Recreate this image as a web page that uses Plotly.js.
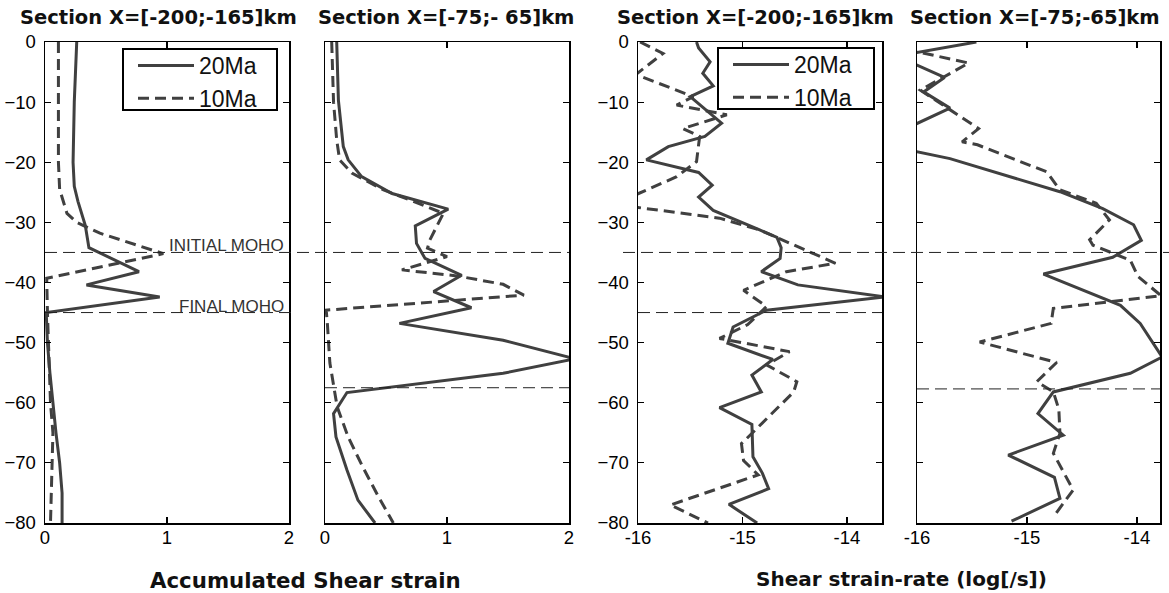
<!DOCTYPE html>
<html>
<head>
<meta charset="utf-8">
<script src="https://cdn.plot.ly/plotly-3.0.1.min.js"></script>
<style>html,body{margin:0;padding:0;background:#fff;}#chart{width:1169px;height:593px;}</style>
</head>
<body>
<div id="chart"></div>
<script>
// ---- Data ----
const seriesNames = ['20Ma', '10Ma'];
const panelTitles = ['Section X=[-200;-165]km', 'Section X=[-75;- 65]km', 'Section X=[-200;-165]km', 'Section X=[-75;-65]km'];
const xTitleStrain = 'Accumulated Shear strain';
const xTitleRate = 'Shear strain-rate (log[/s])';
const mohoLabels = ['INITIAL MOHO', 'FINAL MOHO'];

// Panel 1: accumulated strain, X=[-200;-165]
const p1_20_x = [0.26, 0.24, 0.23, 0.24, 0.27, 0.33, 0.36, 0.77, 0.34, 0.94, 0.01, 0.02, 0.04, 0.063, 0.09, 0.12, 0.14, 0.14];
const p1_20_d = [0, -10, -20, -24, -26.5, -30.5, -34.2, -38.2, -40.4, -42.4, -45, -50, -55, -60, -65, -70, -75, -80];
const p1_10_x = [0.11, 0.11, 0.12, 0.18, 0.26, 0.45, 0.97, 0.53, 0.014, 0.02, 0.03, 0.045, 0.065, 0.06, 0.05, 0.045];
const p1_10_d = [0, -20, -24.5, -28.5, -30, -31.8, -35.2, -37.1, -39.3, -45, -52, -60, -65, -70, -75, -80];

// Panel 2: accumulated strain, X=[-75;-65]
const p2_20_x = [0.096, 0.11, 0.15, 0.19, 0.30, 0.55, 1.01, 0.74, 0.75, 0.82, 1.12, 0.89, 1.20, 0.61, 1.46, 2.05, 1.46, 0.18, 0.07, 0.09, 0.18, 0.27, 0.41];
const p2_20_d = [0, -9.7, -17.4, -19.6, -22.4, -25.2, -27.8, -30.6, -33.5, -36, -38.8, -41.5, -44.2, -46.8, -49.6, -52.7, -55.1, -58.3, -61.8, -65.7, -71.2, -76.2, -80];
const p2_10_x = [0.055, 0.07, 0.096, 0.12, 0.22, 0.48, 0.75, 0.97, 0.86, 0.84, 1.0, 0.63, 1.08, 1.46, 1.63, 0.01, 0.02, 0.04, 0.10, 0.19, 0.31, 0.44, 0.56];
const p2_10_d = [0, -10, -16.3, -19.6, -21.8, -24.6, -26.7, -28.5, -32.9, -34.3, -35.7, -37.9, -38.9, -40.3, -42.1, -44.6, -47, -53.4, -60.7, -65.7, -70.7, -75.7, -80];

// Panel 3: strain rate, X=[-200;-165]
const p3_20_x = [-15.44, -15.42, -15.31, -15.38, -15.28, -15.50, -15.20, -15.36, -15.71, -15.92, -15.42, -15.29, -15.42, -15.28, -14.83, -14.67, -14.63, -14.64, -14.82, -14.47, -13.63, -14.77, -15.09, -15.14, -14.71, -14.91, -14.82, -15.22, -14.91, -14.90, -14.81, -14.75, -15.13, -14.86];
const p3_20_d = [0, -1, -3.3, -5.2, -7.3, -9.1, -13.5, -15.7, -17.4, -19.6, -21.7, -23.8, -25.8, -28, -31.3, -32.5, -34.2, -36, -38.2, -40.4, -42.4, -44.6, -47.4, -50.1, -52.8, -55.4, -58.2, -60.8, -63.6, -69, -71.7, -74.3, -76.9, -80];
const p3_10_x = [-15.98, -15.76, -16.02, -15.47, -15.63, -15.15, -15.57, -15.41, -15.44, -15.63, -16.23, -15.22, -14.83, -14.67, -14.51, -14.11, -14.58, -14.99, -14.77, -14.95, -15.22, -14.55, -14.77, -14.48, -14.51, -14.88, -15.01, -14.99, -14.85, -15.69, -15.33];
const p3_10_d = [0, -1.9, -5.4, -9.1, -10.5, -12.1, -14.4, -15.7, -19.9, -22.4, -27, -29.3, -31.3, -32.5, -33.8, -36.8, -38.2, -41.3, -44.0, -47.0, -49.3, -51.5, -53.7, -56.5, -58.2, -64.6, -66.8, -69.6, -72, -77, -80];

// Panel 4: strain rate, X=[-75;-65]
const p4_20_x = [-15.46, -16.18, -15.75, -15.94, -15.70, -16.38, -15.70, -14.70, -14.31, -14.03, -13.96, -14.22, -14.85, -14.15, -13.97, -13.77, -14.06, -14.76, -14.90, -14.67, -15.17, -14.75, -14.70, -15.14];
const p4_20_d = [0, -2.35, -5.9, -8.3, -11, -16.8, -19.4, -24.9, -27.7, -30.4, -33, -35.8, -38.6, -43.8, -46.8, -52.4, -55.1, -58.2, -61.8, -65.4, -68.7, -72.4, -75.9, -79.7];
const p4_10_x = [-16.4, -15.53, -15.97, -15.44, -15.59, -15.45, -14.82, -14.70, -14.37, -14.25, -14.43, -14.40, -14.06, -13.99, -13.78, -14.76, -14.78, -15.43, -14.73, -14.91, -14.76, -14.71, -14.70, -14.76, -14.58, -14.76];
const p4_10_d = [0, -3.5, -8.0, -14.4, -16.6, -17.1, -21.6, -24.6, -26.8, -29.6, -32.9, -33.8, -36.3, -39, -42.2, -44.3, -46.8, -49.9, -53.3, -56.5, -58.2, -61.1, -65.1, -68.4, -74.5, -79];

// Moho depths (km)
const mohoInitial = -35;
const mohoFinal = -45;
const mohoP2 = -57.5;
const mohoP4 = -57.7;

// ---- Styling ----
const W = 1169, H = 593;
const col = '#404040';
const FONT = 'Liberation Sans, Arial, Helvetica, sans-serif';
const TFONT = 'DejaVu Sans, Liberation Sans, sans-serif';
const px = v => v / W;
const py = v => 1 - v / H;
const yDom = [py(523), py(42)];
const solid = {color: col, width: 3, dash: 'solid'};
const dashed = {color: col, width: 3, dash: '11px,6px'};

function tr(x, y, xa, ya, name, line, show, legend) {
  return {x: x, y: y, xaxis: xa, yaxis: ya, type: 'scatter', mode: 'lines', name: name,
          line: line, showlegend: show, legend: legend || 'legend', hoverinfo: 'skip'};
}

const data = [
  tr(p1_20_x, p1_20_d, 'x', 'y', seriesNames[0], solid, true, 'legend'),
  tr(p1_10_x, p1_10_d, 'x', 'y', seriesNames[1], dashed, true, 'legend'),
  tr(p2_20_x, p2_20_d, 'x2', 'y2', seriesNames[0], solid, false),
  tr(p2_10_x, p2_10_d, 'x2', 'y2', seriesNames[1], dashed, false),
  tr(p3_20_x, p3_20_d, 'x3', 'y3', seriesNames[0], solid, true, 'legend2'),
  tr(p3_10_x, p3_10_d, 'x3', 'y3', seriesNames[1], dashed, true, 'legend2'),
  tr(p4_20_x, p4_20_d, 'x4', 'y4', seriesNames[0], solid, false),
  tr(p4_10_x, p4_10_d, 'x4', 'y4', seriesNames[1], dashed, false)
];

const axBase = {showline: true, linecolor: '#000', linewidth: 1.5, mirror: 'ticks', ticks: 'inside',
  ticklen: 6, tickwidth: 1.2, tickcolor: '#000', showgrid: false, zeroline: false,
  tickfont: {family: FONT, size: 18.5, color: '#000'}, fixedrange: true};

function xa(dom, range, vals, anchor) {
  return Object.assign({}, axBase, {domain: [px(dom[0]), px(dom[1])], range: range, tickvals: vals,
    ticktext: vals.map(String), anchor: anchor, ticklabelstandoff: -3});
}
function ya(range, anchor, showLabels) {
  return Object.assign({}, axBase, {domain: yDom, range: range, dtick: 10, tick0: 0, anchor: anchor,
    showticklabels: showLabels, ticklabelstandoff: 4});
}

const titleFont = {family: TFONT, size: 19.5, color: '#111'};
const mohoFont = {family: FONT, size: 17, color: '#333'};
const panelCenters = [158, 446, 755, 1035];

const annotations = panelTitles.map((t, i) => ({text: '<b>' + t + '</b>', xref: 'paper', yref: 'paper',
  x: px(panelCenters[i]), y: py(17), xanchor: 'center', yanchor: 'middle', showarrow: false, font: titleFont}));
annotations.push({text: '<b>' + xTitleStrain + '</b>', xref: 'paper', yref: 'paper', x: px(305), y: py(580),
  xanchor: 'center', yanchor: 'middle', showarrow: false, font: {family: TFONT, size: 21.3, color: '#111'}});
annotations.push({text: '<b>' + xTitleRate + '</b>', xref: 'paper', yref: 'paper', x: px(901), y: py(579),
  xanchor: 'center', yanchor: 'middle', showarrow: false, font: {family: TFONT, size: 20, color: '#111'}});
annotations.push({text: mohoLabels[0], xref: 'paper', yref: 'y', x: px(286), y: mohoInitial, xanchor: 'right',
  yanchor: 'bottom', yshift: -5, showarrow: false, font: mohoFont});
annotations.push({text: mohoLabels[1], xref: 'paper', yref: 'y', x: px(286), y: mohoFinal, xanchor: 'right',
  yanchor: 'bottom', yshift: -5, showarrow: false, font: mohoFont});

function hline(y0, x0, x1) {
  return {type: 'line', xref: 'paper', yref: 'y', x0: px(x0), x1: px(x1), y0: y0, y1: y0,
    line: {color: '#222', width: 1, dash: '12px,6px'}};
}
function box(x0, y0, x1, y1) {
  return {type: 'rect', xref: 'paper', yref: 'paper', x0: px(x0), x1: px(x1), y0: py(y1), y1: py(y0),
    line: {color: '#000', width: 2}, fillcolor: '#fff', layer: 'above'};
}
const shapes = [
  hline(mohoInitial, 45, 569),
  hline(mohoFinal, 45, 297),
  hline(mohoP2, 325, 569),
  hline(mohoInitial, 623, 1169),
  hline(mohoFinal, 638, 882),
  hline(mohoP4, 917, 1160),
  box(123, 49, 277, 110),
  box(718, 48, 874, 109)
];

const legBase = {bgcolor: 'rgba(0,0,0,0)', borderwidth: 0, font: {family: FONT, size: 23, color: '#111'},
  xanchor: 'left', yanchor: 'top', itemwidth: 56, tracegroupgap: 0};

const layout = {
  width: W, height: H, margin: {l: 0, r: 0, t: 0, b: 0}, paper_bgcolor: '#fff', plot_bgcolor: '#fff',
  showlegend: true,
  legend: Object.assign({}, legBase, {x: px(133), y: py(44)}),
  legend2: Object.assign({}, legBase, {x: px(728), y: py(43)}),
  xaxis: xa([45, 289], [0, 2], [0, 1, 2], 'y'),
  yaxis: ya([-80, 0], 'x', true),
  xaxis2: xa([325, 569], [0, 2], [0, 1, 2], 'y2'),
  yaxis2: ya([-80, 0], 'x2', false),
  xaxis3: xa([638, 882], [-16, -13.665], [-16, -15, -14], 'y3'),
  yaxis3: ya([-80, 0], 'x3', true),
  xaxis4: xa([917, 1160], [-16, -13.79], [-16, -15, -14], 'y4'),
  yaxis4: ya([-80, 0], 'x4', false),
  annotations: annotations,
  shapes: shapes
};

Plotly.newPlot('chart', data, layout, {staticPlot: true, displayModeBar: false});
</script>
</body>
</html>
